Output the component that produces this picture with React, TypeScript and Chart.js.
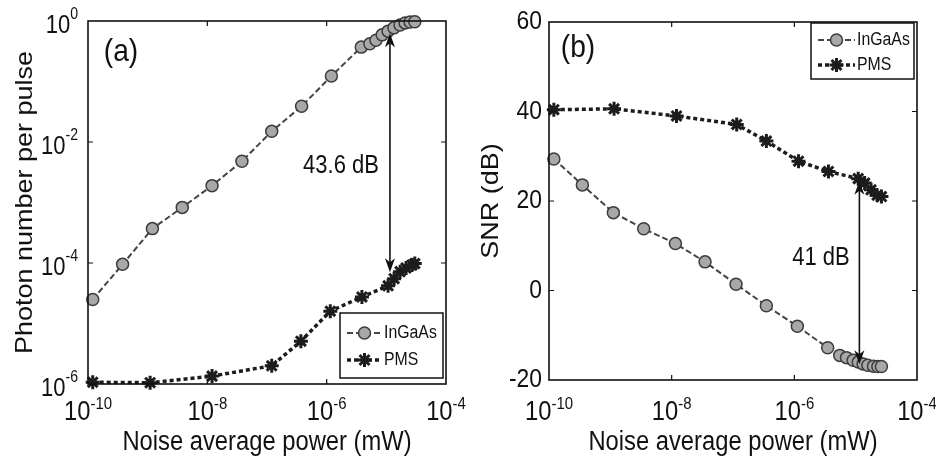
import React, { useEffect, useRef } from "react";
import { Chart, registerables } from "chart.js";

Chart.register(...registerables);

// ---- Panel (a): photon number per pulse vs noise average power ----
const powerA_InGaAs = [1.2e-10, 3.8e-10, 1.2e-9, 3.8e-9, 1.2e-8, 3.8e-8, 1.2e-7, 3.8e-7, 1.2e-6, 3.8e-6, 5.3e-6, 6.7e-6, 8.5e-6, 1.07e-5, 1.34e-5, 1.7e-5, 2.06e-5, 2.5e-5, 3.0e-5];
const photonInGaAs = [2.5e-5, 9.5e-5, 3.7e-4, 8.3e-4, 1.9e-3, 4.8e-3, 1.5e-2, 3.9e-2, 0.123, 0.37, 0.42, 0.48, 0.59, 0.68, 0.77, 0.86, 0.93, 0.96, 0.97];
const powerA_PMS = [1.2e-10, 1.1e-9, 1.2e-8, 1.2e-7, 3.7e-7, 1.15e-6, 3.9e-6, 1.07e-5, 1.35e-5, 1.7e-5, 2.14e-5, 2.7e-5, 3.0e-5];
const photonPMS = [1.07e-6, 1.05e-6, 1.35e-6, 2.0e-6, 5.1e-6, 1.6e-5, 2.75e-5, 4.2e-5, 5.5e-5, 7.2e-5, 8.3e-5, 9.3e-5, 9.8e-5];

// ---- Panel (b): SNR vs noise average power ----
const powerB_InGaAs = [1.2e-10, 3.5e-10, 1.12e-9, 3.5e-9, 1.15e-8, 3.5e-8, 1.12e-7, 3.5e-7, 1.12e-6, 3.5e-6, 5.5e-6, 7.1e-6, 9.1e-6, 1.1e-5, 1.32e-5, 1.58e-5, 1.95e-5, 2.3e-5, 2.63e-5];
const snrInGaAs = [29.4, 23.6, 17.4, 13.8, 10.5, 6.4, 1.4, -3.4, -8.0, -12.8, -14.5, -15.0, -15.6, -16.0, -16.4, -16.7, -16.9, -17.0, -17.0];
const powerB_PMS = [1.2e-10, 1.15e-9, 1.2e-8, 1.15e-7, 3.5e-7, 1.17e-6, 3.6e-6, 1.1e-5, 1.4e-5, 1.78e-5, 2.24e-5, 2.63e-5];
const snrPMS = [40.4, 40.6, 39.0, 37.1, 33.4, 28.9, 26.6, 25.0, 24.0, 22.5, 21.3, 21.0];

// ---- Axis ticks ----
const powerDecades = [-10, -8, -6, -4];
const photonDecades = [0, -2, -4, -6];
const snrTicks = [60, 40, 20, 0, -20];

// ---- Annotations ----
const seriesNames = ["InGaAs", "PMS"];
const arrowPower = 1.15e-5;
const gapLabelA = "43.6 dB";
const arrowSpanA = [0.63, 7.0e-5];
const gapLabelB = "41 dB";
const arrowSpanB = [24.5, -16.5];

const FONT = '"Liberation Sans", Arial, Helvetica, sans-serif';
const SX = 0.88; // narrow glyphs
const INK = "#111";

const ingaasStyle = {
  borderColor: "#444",
  borderWidth: 2,
  borderDash: [6, 3],
  pointStyle: "circle",
  pointRadius: 6,
  pointBackgroundColor: "#a8a8a8",
  pointBorderColor: "#3c3c3c",
  pointBorderWidth: 1.5,
};
const pmsStyle = {
  borderColor: "#1c1c1c",
  borderWidth: 3.5,
  borderDash: [4, 3],
  pointStyle: "star",
  pointRadius: 7,
  pointBackgroundColor: "#1c1c1c",
  pointBorderColor: "#1c1c1c",
  pointBorderWidth: 3,
};

function measure(ctx: CanvasRenderingContext2D, s: string, size: number) {
  ctx.font = `${size}px ${FONT}`;
  return ctx.measureText(s).width * SX;
}

function txt(
  ctx: CanvasRenderingContext2D,
  s: string,
  x: number,
  y: number,
  size: number,
  align: CanvasTextAlign,
  rotate = false
) {
  ctx.save();
  ctx.translate(x, y);
  ctx.scale(SX, 1);
  if (rotate) ctx.rotate(-Math.PI / 2);
  ctx.font = `${size}px ${FONT}`;
  ctx.textAlign = align;
  ctx.textBaseline = "middle";
  ctx.fillStyle = INK;
  ctx.fillText(s, 0, 0);
  ctx.restore();
}

function powerLabel(
  ctx: CanvasRenderingContext2D,
  exp: number,
  x: number,
  y: number,
  bs: number,
  es: number,
  align: "center" | "right",
  raise: number
) {
  const base = "10";
  const e = String(exp);
  const wb = measure(ctx, base, bs);
  const we = measure(ctx, e, es);
  const x0 = align === "center" ? x - (wb + we) / 2 : x - (wb + we);
  txt(ctx, base, x0, y, bs, "left");
  txt(ctx, e, x0 + wb, y - raise, es, "left");
}

function marker(ctx: CanvasRenderingContext2D, st: any, x: number, y: number) {
  ctx.save();
  ctx.setLineDash([]);
  ctx.lineWidth = st.pointBorderWidth;
  ctx.strokeStyle = st.pointBorderColor;
  ctx.fillStyle = st.pointBackgroundColor;
  const r = st.pointRadius;
  ctx.beginPath();
  if (st.pointStyle === "circle") {
    ctx.arc(x, y, r, 0, Math.PI * 2);
    ctx.fill();
    ctx.stroke();
  } else {
    for (let k = 0; k < 4; k++) {
      const a = (k * Math.PI) / 4;
      ctx.moveTo(x - r * Math.cos(a), y - r * Math.sin(a));
      ctx.lineTo(x + r * Math.cos(a), y + r * Math.sin(a));
    }
    ctx.stroke();
  }
  ctx.restore();
}

function legendBox(
  ctx: CanvasRenderingContext2D,
  bx: number,
  by: number,
  bw: number,
  bh: number,
  rows: number[],
  segL: number,
  segR: number,
  textX: number,
  size: number
) {
  ctx.save();
  ctx.fillStyle = "#fff";
  ctx.fillRect(bx, by, bw, bh);
  ctx.strokeStyle = INK;
  ctx.lineWidth = 1.5;
  ctx.strokeRect(bx, by, bw, bh);
  const styles = [ingaasStyle, pmsStyle];
  styles.forEach((st, i) => {
    const y = by + rows[i];
    ctx.save();
    ctx.strokeStyle = st.borderColor;
    ctx.lineWidth = st.borderWidth;
    ctx.setLineDash(st.borderDash);
    ctx.beginPath();
    ctx.moveTo(bx + segL, y);
    ctx.lineTo(bx + segR, y);
    ctx.stroke();
    ctx.restore();
    marker(ctx, st, bx + (segL + segR) / 2, y);
    txt(ctx, seriesNames[i], bx + textX, y, size, "left");
  });
  ctx.restore();
}

function frame(ctx: CanvasRenderingContext2D, chart: any, xTickPx: number[], yTickPx: number[]) {
  const { left, right, top, bottom } = chart.chartArea;
  ctx.save();
  ctx.strokeStyle = INK;
  ctx.lineWidth = 1.6;
  ctx.setLineDash([]);
  ctx.strokeRect(left, top, right - left, bottom - top);
  ctx.lineWidth = 1.2;
  ctx.beginPath();
  const L = 5;
  xTickPx.forEach((x) => {
    ctx.moveTo(x, bottom);
    ctx.lineTo(x, bottom - L);
    ctx.moveTo(x, top);
    ctx.lineTo(x, top + L);
  });
  yTickPx.forEach((y) => {
    ctx.moveTo(left, y);
    ctx.lineTo(left + L, y);
    ctx.moveTo(right, y);
    ctx.lineTo(right - L, y);
  });
  ctx.stroke();
  ctx.restore();
}

function arrow(ctx: CanvasRenderingContext2D, x: number, yTop: number, yBot: number) {
  ctx.save();
  ctx.strokeStyle = INK;
  ctx.fillStyle = INK;
  ctx.lineWidth = 1.6;
  ctx.setLineDash([]);
  ctx.beginPath();
  ctx.moveTo(x, yTop + 4);
  ctx.lineTo(x, yBot - 4);
  ctx.stroke();
  const hl = 14;
  const hw = 5;
  ctx.beginPath();
  ctx.moveTo(x, yTop);
  ctx.lineTo(x - hw, yTop + hl);
  ctx.lineTo(x, yTop + hl - 4);
  ctx.lineTo(x + hw, yTop + hl);
  ctx.closePath();
  ctx.fill();
  ctx.beginPath();
  ctx.moveTo(x, yBot);
  ctx.lineTo(x - hw, yBot - hl);
  ctx.lineTo(x, yBot - hl + 4);
  ctx.lineTo(x + hw, yBot - hl);
  ctx.closePath();
  ctx.fill();
  ctx.restore();
}

function xAxisCommon(ctx: CanvasRenderingContext2D, chart: any, labelY: number) {
  const xs = chart.scales.x;
  const { left, right } = chart.chartArea;
  powerDecades.forEach((d) => {
    powerLabel(ctx, d, xs.getPixelForValue(Math.pow(10, d)), labelY, 27, 17, "center", 9);
  });
  txt(ctx, "Noise average power (mW)", (left + right) / 2, 443, 27, "center");
}

const decorA = {
  id: "decorA",
  afterDraw(chart: any) {
    const ctx = chart.ctx as CanvasRenderingContext2D;
    const xs = chart.scales.x;
    const ys = chart.scales.y;
    const { left, top, bottom } = chart.chartArea;
    frame(
      ctx,
      chart,
      [-8, -6].map((d) => xs.getPixelForValue(Math.pow(10, d))),
      [-2, -4].map((d) => ys.getPixelForValue(Math.pow(10, d)))
    );
    photonDecades.forEach((d) => {
      powerLabel(ctx, d, left - 10, ys.getPixelForValue(Math.pow(10, d)) + 5, 25, 16, "right", 11);
    });
    xAxisCommon(ctx, chart, bottom + 29);
    txt(ctx, "Photon number per pulse", 25, (top + bottom) / 2, 27, "center", true);
    txt(ctx, "(a)", 121, 52, 32, "center");
    const ax = xs.getPixelForValue(arrowPower);
    arrow(ctx, ax, ys.getPixelForValue(arrowSpanA[0]), ys.getPixelForValue(arrowSpanA[1]));
    txt(ctx, gapLabelA, 341, 166, 25, "center");
    legendBox(ctx, 340, 313, 103, 65, [20, 47], 7, 42, 44, 18);
  },
};

const decorB = {
  id: "decorB",
  afterDraw(chart: any) {
    const ctx = chart.ctx as CanvasRenderingContext2D;
    const xs = chart.scales.x;
    const ys = chart.scales.y;
    const { left, top, bottom } = chart.chartArea;
    frame(
      ctx,
      chart,
      [-8, -6].map((d) => xs.getPixelForValue(Math.pow(10, d))),
      [40, 20, 0].map((v) => ys.getPixelForValue(v))
    );
    snrTicks.forEach((v) => {
      txt(ctx, String(v), left - 7, ys.getPixelForValue(v), 26, "right");
    });
    xAxisCommon(ctx, chart, bottom + 33);
    txt(ctx, "SNR (dB)", 23, (top + bottom) / 2, 27, "center", true);
    txt(ctx, "(b)", 110, 48, 32, "center");
    const ax = xs.getPixelForValue(arrowPower);
    arrow(ctx, ax, ys.getPixelForValue(arrowSpanB[0]), ys.getPixelForValue(arrowSpanB[1]));
    txt(ctx, gapLabelB, 353, 258, 25, "center");
    legendBox(ctx, 343, 23, 103, 56, [17, 42], 7, 44, 46, 18);
  },
};

function zip(xs: number[], ys: number[]) {
  return xs.map((x, i) => ({ x, y: ys[i] }));
}

function buildConfig(which: "a" | "b"): any {
  const isA = which === "a";
  const datasets = isA
    ? [
        { label: seriesNames[0], data: zip(powerA_InGaAs, photonInGaAs), ...ingaasStyle },
        { label: seriesNames[1], data: zip(powerA_PMS, photonPMS), ...pmsStyle },
      ]
    : [
        { label: seriesNames[0], data: zip(powerB_InGaAs, snrInGaAs), ...ingaasStyle },
        { label: seriesNames[1], data: zip(powerB_PMS, snrPMS), ...pmsStyle },
      ];
  return {
    type: "line",
    data: {
      datasets: datasets.map((d) => ({ ...d, fill: false, tension: 0, clip: false })),
    },
    options: {
      animation: false,
      responsive: false,
      events: [],
      layout: {
        padding: isA
          ? { left: 88, right: 22, top: 21, bottom: 83 }
          : { left: 81, right: 19, top: 22, bottom: 87 },
      },
      plugins: { legend: { display: false }, tooltip: { enabled: false } },
      scales: {
        x: { type: "logarithmic", min: 1e-10, max: 1e-4, display: false },
        y: isA
          ? { type: "logarithmic", min: 1e-6, max: 1, display: false }
          : { type: "linear", min: -20, max: 60, display: false },
      },
    },
    plugins: [isA ? decorA : decorB],
  };
}

function Panel({ which, left }: { which: "a" | "b"; left: number }) {
  const ref = useRef<HTMLCanvasElement>(null);
  useEffect(() => {
    const chart = new Chart(ref.current as HTMLCanvasElement, buildConfig(which));
    return () => chart.destroy();
  }, [which]);
  return (
    <canvas
      ref={ref}
      width={468}
      height={467}
      style={{ position: "absolute", left, top: 0, width: 468, height: 467 }}
    />
  );
}

export default function App() {
  return (
    <div style={{ position: "fixed", left: 0, top: 0, width: 936, height: 467, background: "#fff" }}>
      <Panel which="a" left={0} />
      <Panel which="b" left={468} />
    </div>
  );
}
